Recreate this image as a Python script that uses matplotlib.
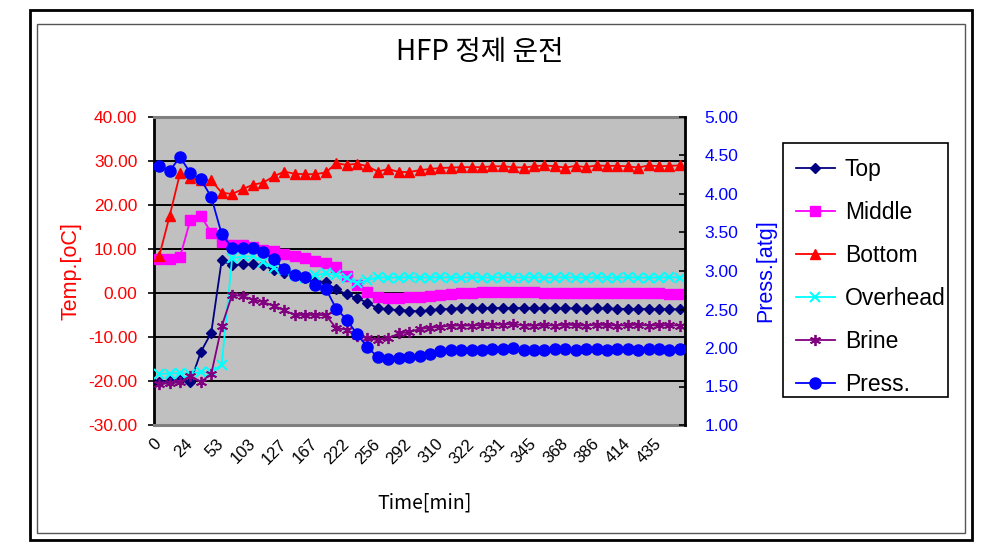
import matplotlib
matplotlib.use("Agg")
import matplotlib.pyplot as plt
import numpy as np
from matplotlib.patches import Rectangle

# ---------------- data ----------------
tick_labels = ["0", "24", "53", "103", "127", "167", "222", "256", "292",
               "310", "322", "331", "345", "368", "386", "414", "435"]
n_points = 51
label_step = 3

top = [-20.3, -20.0, -19.8, -20.2, -13.4, -9.0, 7.4, 6.3, 6.5, 6.5,
       6.3, 5.2, 4.6, 4.0, 3.4, 2.8, 2.4, 0.8, -0.3, -1.2,
       -2.2, -3.5, -3.7, -3.9, -4.0, -4.2, -3.9, -3.7, -3.6, -3.4,
       -3.4, -3.4, -3.4, -3.4, -3.4, -3.4, -3.4, -3.5, -3.5, -3.5,
       -3.5, -3.6, -3.5, -3.5, -3.6, -3.6, -3.6, -3.6, -3.6, -3.7,
       -3.7]
middle = [7.8, 7.8, 8.2, 16.7, 17.5, 13.7, 11.6, 11.0, 10.8, 10.5,
          9.8, 9.5, 8.8, 8.3, 8.0, 7.2, 6.8, 5.8, 3.8, 1.8,
          0.3, -1.0, -1.1, -1.1, -1.0, -0.9, -0.6, -0.4, -0.2, 0.0,
          0.1, 0.2, 0.2, 0.2, 0.2, 0.2, 0.2, 0.1, 0.1, 0.1,
          0.1, 0.1, 0.0, 0.0, 0.0, 0.0, 0.0, -0.1, -0.1, -0.2,
          -0.2]
bottom = [8.4, 17.5, 27.2, 26.1, 25.6, 25.6, 22.8, 22.5, 23.6, 24.6,
          25.1, 26.5, 27.6, 27.1, 27.0, 27.0, 27.4, 29.5, 29.1, 29.4,
          28.8, 27.6, 28.2, 27.5, 27.5, 27.9, 28.2, 28.4, 28.5, 28.6,
          28.6, 28.6, 28.8, 28.8, 28.6, 28.5, 28.8, 29.0, 28.8, 28.5,
          28.9, 28.6, 29.0, 28.9, 28.9, 28.8, 28.5, 29.0, 28.8, 28.9,
          29.0]
overhead = [-18.4, -18.3, -18.2, -18.3, -18.0, -18.0, -16.3, 7.9, 8.3, 8.3,
            7.1, 5.6, 5.2, 4.1, 3.3, 4.0, 4.5, 4.1, 3.3, 2.2,
            2.9, 3.6, 3.5, 3.5, 3.6, 3.5, 3.5, 3.6, 3.5, 3.5,
            3.6, 3.5, 3.5, 3.6, 3.5, 3.5, 3.6, 3.5, 3.5, 3.6,
            3.5, 3.5, 3.6, 3.5, 3.5, 3.6, 3.5, 3.5, 3.5, 3.6,
            3.5]
brine = [-20.7, -20.5, -20.3, -18.8, -20.2, -18.4, -7.6, -0.4, -0.7, -1.5,
         -2.1, -2.9, -3.9, -5.0, -5.0, -5.0, -5.0, -8.0, -8.3, -9.7,
         -10.3, -10.7, -10.3, -9.2, -8.9, -8.2, -7.9, -7.7, -7.4, -7.4,
         -7.4, -7.3, -7.2, -7.2, -7.0, -7.4, -7.4, -7.3, -7.4, -7.2,
         -7.3, -7.4, -7.2, -7.3, -7.4, -7.3, -7.2, -7.4, -7.3, -7.3,
         -7.4]
press = [4.36, 4.30, 4.48, 4.27, 4.19, 3.96, 3.48, 3.30, 3.30, 3.30,
         3.25, 3.15, 3.03, 2.95, 2.92, 2.82, 2.77, 2.51, 2.37, 2.18,
         2.01, 1.88, 1.86, 1.87, 1.88, 1.89, 1.92, 1.96, 1.98, 1.98,
         1.98, 1.98, 1.99, 1.99, 2.00, 1.98, 1.98, 1.98, 1.99, 1.99,
         1.98, 1.99, 1.99, 1.98, 1.99, 1.99, 1.98, 1.99, 1.99, 1.98,
         1.99]

left_ticks = [-30, -20, -10, 0, 10, 20, 30, 40]
right_ticks = [1.0, 1.5, 2.0, 2.5, 3.0, 3.5, 4.0, 4.5, 5.0]

# ---------------- figure ----------------
W, H = 989, 550
fig = plt.figure(figsize=(W / 100, H / 100), dpi=100)
fig.patch.set_facecolor("white")

def fx(px):
    return px / W

def fy(py):
    return 1 - py / H

# chart borders
fig.add_artist(Rectangle((fx(30), fy(540)), fx(972) - fx(30), fy(10) - fy(540),
                         transform=fig.transFigure, fill=False, edgecolor="black", lw=2))
fig.add_artist(Rectangle((fx(37), fy(533)), fx(965) - fx(37), fy(24) - fy(533),
                         transform=fig.transFigure, fill=False, edgecolor="#555555", lw=1))

ax = fig.add_axes([fx(154), fy(425), fx(685) - fx(154), fy(117) - fy(425)])
ax.set_facecolor("#C0C0C0")
x = np.arange(n_points)

base_font = ["Liberation Sans", "DejaVu Sans"]
cjk_font = ["Noto Sans CJK KR", "DejaVu Sans"]

ax.set_ylim(-30, 40)
ax.set_xlim(-0.5, n_points - 0.5)
ax.set_yticks(left_ticks)
ax.set_yticklabels([f"{v:.2f}" for v in left_ticks], color="#FF0000",
                   fontsize=12.5, family=base_font)
for v in left_ticks[1:-1]:
    ax.axhline(v, color="black", lw=1.4, zorder=1)

lw = 1.3
h_top, = ax.plot(x, top, color="#000080", marker="D", ms=5.5, lw=lw, label="Top", zorder=3)
h_mid, = ax.plot(x, middle, color="#FF00FF", marker="s", ms=6.5, lw=lw, label="Middle", zorder=3)
h_bot, = ax.plot(x, bottom, color="#FF0000", marker="^", ms=7.5, lw=lw, label="Bottom", zorder=3)
h_ovh, = ax.plot(x, overhead, color="#00FFFF", marker="x", ms=6.5, mew=1.5, lw=lw, label="Overhead", zorder=3)
h_bri, = ax.plot(x, brine, color="#800080", marker=(6, 2, 0), ms=8, mew=1.3, lw=lw, label="Brine", zorder=3)

ax2 = ax.twinx()
ax2.set_ylim(1.0, 5.0)
ax2.set_yticks(right_ticks)
ax2.set_yticklabels([f"{v:.2f}" for v in right_ticks], color="#0000FF",
                    fontsize=12.5, family=base_font)
h_prs, = ax2.plot(x, press, color="#0000FF", marker="o", ms=8, lw=lw, label="Press.", zorder=3)

ax.set_xticks(x[::label_step])
ax.set_xticklabels(tick_labels, rotation=45, ha="right", va="center",
                   rotation_mode="anchor", fontsize=12, family=base_font)
ax.tick_params(axis="x", length=0, pad=12)
ax.tick_params(axis="y", direction="out", length=4, width=1.2, pad=8)
ax2.tick_params(axis="y", direction="in", length=4, width=1.2, pad=14)

for sp in ["top", "bottom"]:
    ax.spines[sp].set_color("#808080")
    ax.spines[sp].set_linewidth(2.2)
ax.spines["left"].set_color("black")
ax.spines["left"].set_linewidth(2)
for sp in ["top", "bottom", "left"]:
    ax2.spines[sp].set_visible(False)
ax2.spines["right"].set_color("black")
ax2.spines["right"].set_linewidth(2)

ax.set_ylabel("Temp.[oC]", color="#FF0000", fontsize=15.5, family=base_font, labelpad=5)
ax2.set_ylabel("Press.[atg]", color="#0000FF", fontsize=15.5, family=base_font, labelpad=12)
fig.text(fx(425), fy(503), "Time[min]", fontsize=14, family=cjk_font,
         ha="center", va="center")

fig.text(fx(480), fy(52), "HFP 정제 운전", fontsize=20, family=cjk_font,
         ha="center", va="center")

handles = [h_top, h_mid, h_bot, h_ovh, h_bri, h_prs]
leg = fig.legend(handles, [h.get_label() for h in handles],
                 loc="upper left", bbox_to_anchor=(fx(783), fy(145)),
                 bbox_transform=fig.transFigure, borderaxespad=0,
                 frameon=False,
                 prop={"family": base_font, "size": 16.5},
                 handlelength=1.7, handletextpad=0.45, labelspacing=0.88,
                 borderpad=0.55, markerscale=1.0)
# legend frame box
fig.add_artist(Rectangle((fx(783), fy(397)), fx(948) - fx(783), fy(143) - fy(397),
                         transform=fig.transFigure, fill=True, facecolor="white",
                         edgecolor="black", lw=1.2, zorder=0.5))

fig.savefig("out.png", dpi=100, facecolor="white")
